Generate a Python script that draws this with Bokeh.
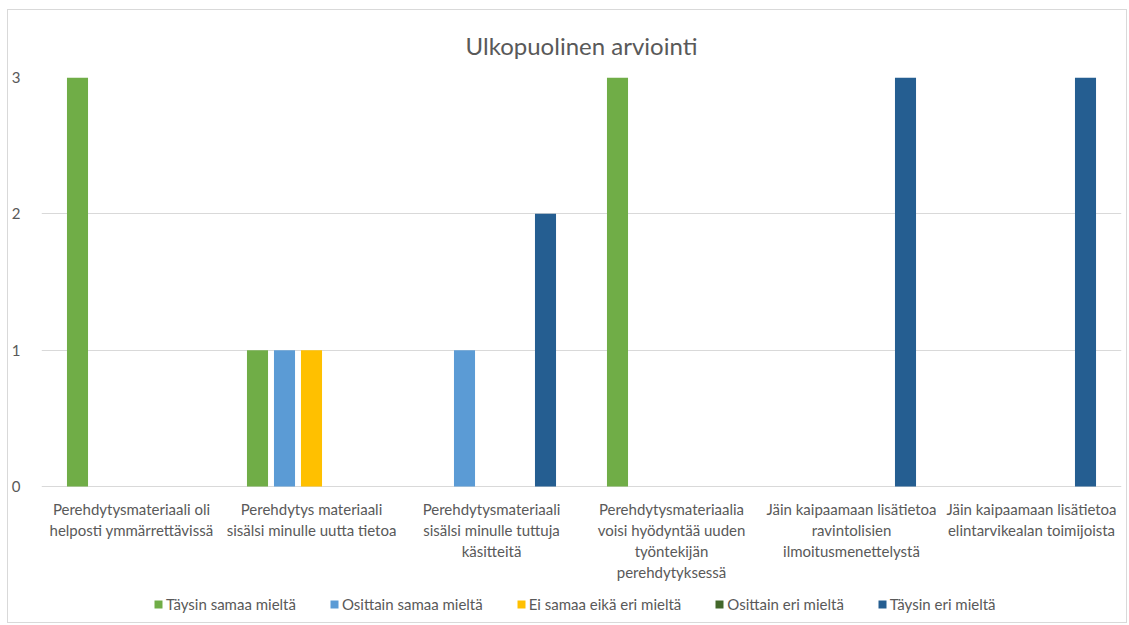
from bokeh.plotting import figure
from bokeh.models import (FactorRange, Range1d, Legend, LegendItem, ColumnDataSource,
                          FixedTicker, Title)
from bokeh.core.properties import value
from bokeh.transform import dodge
from bokeh.embed import file_html
from bokeh.resources import INLINE

categories = [
    "Perehdytysmateriaali oli\nhelposti ymmärrettävissä",
    "Perehdytys materiaali\nsisälsi minulle uutta tietoa",
    "Perehdytysmateriaali\nsisälsi minulle tuttuja\nkäsitteitä",
    "Perehdytysmateriaalia\nvoisi hyödyntää uuden\ntyöntekijän\nperehdytyksessä",
    "Jäin kaipaamaan lisätietoa\nravintolisien\nilmoitusmenettelystä",
    "Jäin kaipaamaan lisätietoa\nelintarvikealan toimijoista",
]
series_names = ["Täysin samaa mieltä", "Osittain samaa mieltä", "Ei samaa eikä eri mieltä",
                "Osittain eri mieltä", "Täysin eri mieltä"]
taysin_samaa = [3, 1, 0, 3, 0, 0]
osittain_samaa = [0, 1, 1, 0, 0, 0]
ei_samaa_eika_eri = [0, 1, 0, 0, 0, 0]
osittain_eri = [0, 0, 0, 0, 0, 0]
taysin_eri = [0, 0, 2, 0, 3, 3]
y_ticks = [0, 1, 2, 3]

colors = ["#70AD47", "#5B9BD5", "#FFC000", "#43682B", "#255E91"]
series = [taysin_samaa, osittain_samaa, ei_samaa_eika_eri, osittain_eri, taysin_eri]
offsets = [-0.3, -0.15, 0.0, 0.15, 0.3]

FONT = "Lato"
GREY = "#595959"

# value axis: 409 px for 3 units; the frame is extended below 0 to hold labels and legend
PX_PER_UNIT = 409 / 3
BELOW_PX = 136
p = figure(x_range=FactorRange(*categories, range_padding=0),
           y_range=Range1d(-BELOW_PX / PX_PER_UNIT, 3),
           frame_width=1080, frame_height=409 + BELOW_PX, output_backend="svg",
           toolbar_location=None, x_axis_location=None,
           min_border_left=32, min_border_right=5, min_border_top=67, min_border_bottom=0)

src = ColumnDataSource(dict(cat=categories, s0=series[0], s1=series[1], s2=series[2],
                            s3=series[3], s4=series[4], base=[0] * len(categories)))
items = []
for i, (name, col, off) in enumerate(zip(series_names, colors, offsets)):
    r = p.vbar(x=dodge("cat", off, range=p.x_range), top="s%d" % i, width=0.117,
               source=src, fill_color=col, line_color=None)
    items.append(LegendItem(label=name, renderers=[r]))

# category labels under the baseline
p.text(x="cat", y="base", text="cat", source=src, y_offset=13,
       text_align="center", text_baseline="top", text_font=value(FONT),
       text_font_size="15px", text_color=GREY, text_line_height=1.18)

legend = Legend(items=items, orientation="horizontal", location=(112, 9),
                label_text_font=FONT, label_text_font_size="15px", label_text_color=GREY,
                glyph_width=10, glyph_height=10, spacing=33, label_standoff=3,
                border_line_color=None, background_fill_alpha=0, padding=0, margin=0,
                label_height=14)
p.add_layout(legend)

t = Title(text="Ulkopuolinen arviointi", align="center", text_font=FONT,
          text_font_size="24px", text_color=GREY, text_font_style="normal",
          standoff=35, offset=-8)
p.add_layout(t, "above")

p.outline_line_color = None
p.xgrid.grid_line_color = None
p.ygrid.grid_line_color = "#D9D9D9"
p.ygrid.ticker = FixedTicker(ticks=y_ticks)
p.yaxis.ticker = FixedTicker(ticks=y_ticks)
p.yaxis.axis_line_color = None
p.yaxis.major_tick_line_color = None
p.yaxis.minor_tick_line_color = None
p.yaxis.major_label_text_font = FONT
p.yaxis.major_label_text_font_size = "15px"
p.yaxis.major_label_text_color = GREY
p.yaxis.major_label_standoff = 15

p.styles = {"border": "1px solid #D9D9D9", "margin-left": "7px", "margin-top": "9px"}

open("out.html", "w").write(file_html(p, INLINE))
